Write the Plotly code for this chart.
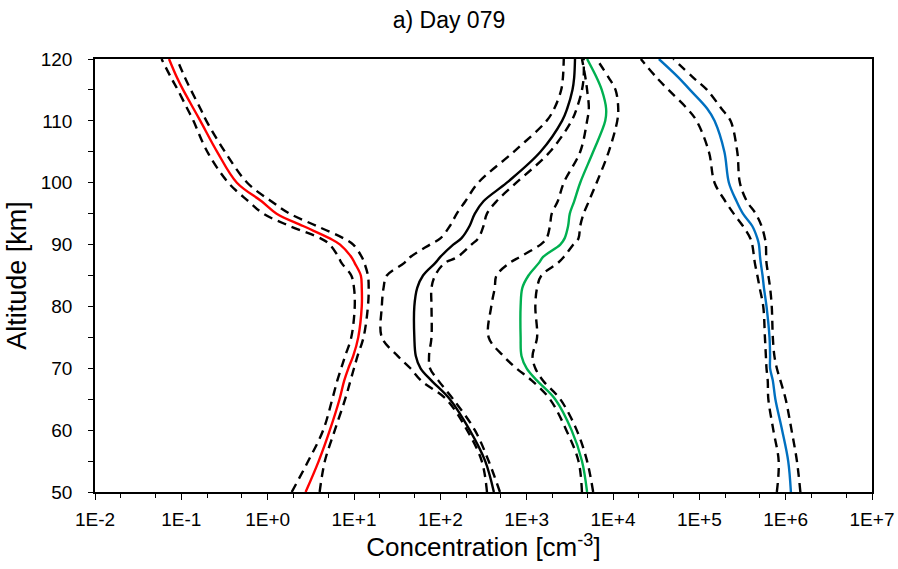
import plotly.graph_objects as go

# Altitude grid [km]
altitude = [50, 55, 60, 65, 68, 70, 72, 75, 80, 83, 85, 87, 88, 90, 91, 93, 95, 97, 100, 105, 110, 112, 115, 117, 120]

# Red species (center, lower, upper) [cm^-3]
red_mid = [2.75, 3.9, 5.25, 6.8, 7.7, 8.6, 9.8, 11.2, 12.3, 12.3, 12.0, 10.2, 9.3, 6.9, 5.25, 2.57, 1.27, 0.85, 0.44, 0.26, 0.166, 0.138, 0.105, 0.089, 0.072]
red_low = [1.9, 2.95, 4.4, 5.6, 6.4, 7.1, 7.9, 9.3, 10.2, 10.0, 9.3, 7.2, 6.6, 5.25, 4.1, 1.8, 0.89, 0.60, 0.35, 0.20, 0.138, 0.117, 0.091, 0.076, 0.059]
red_up = [4.0, 4.6, 6.0, 7.9, 9.1, 10.0, 11.0, 12.9, 14.5, 14.8, 14.5, 13.2, 12.3, 9.8, 7.6, 3.7, 1.8, 1.1, 0.58, 0.32, 0.195, 0.166, 0.129, 0.11, 0.089]

# Black species
black_mid = [417, 331, 219, 129, 79, 59, 52, 50, 50, 54, 63, 87, 100, 141, 175, 218, 251, 316, 589, 1445, 2570, 2950, 3390, 3550, 3630]
black_low = [347, 302, 204, 117, 60, 45, 32, 21, 21, 22, 24, 38, 45, 76, 100, 129, 155, 195, 275, 708, 1700, 2090, 2510, 2630, 2690]
black_up = [490, 363, 251, 141, 95, 76, 74, 79, 79, 79, 87, 112, 158, 229, 275, 316, 347, 447, 759, 1860, 3310, 3800, 4370, 4570, 4570]

# Green species
green_mid = [5010, 4370, 3310, 2140, 1320, 1000, 871, 851, 851, 891, 1050, 1380, 1550, 2450, 2750, 3020, 3160, 3550, 4170, 5890, 8130, 8320, 7410, 6460, 5010]
green_low = [4370, 3980, 2880, 1860, 1150, 759, 537, 363, 389, 427, 447, 631, 832, 1450, 1700, 1860, 1950, 2290, 2690, 4170, 5010, 5250, 5010, 4790, 4370]
green_up = [5890, 5010, 3800, 2450, 1550, 1260, 1170, 1320, 1260, 1320, 1480, 2290, 2690, 3470, 3980, 4170, 4570, 5250, 6460, 8910, 11200, 11500, 10700, 8910, 6460]

# Blue species
blue_mid = [1.15e6, 1.07e6, 9.1e5, 7.6e5, 7.1e5, 6.6e5, 6.6e5, 6.5e5, 6.0e5, 5.6e5, 5.4e5, 5.15e5, 5.05e5, 4.9e5, 4.7e5, 4.1e5, 3.2e5, 2.7e5, 2.2e5, 1.95e5, 1.5e5, 1.23e5, 7.8e4, 5.75e4, 3.4e4]
blue_low = [7.9e5, 8.3e5, 7.2e5, 6.3e5, 6.2e5, 6.0e5, 5.9e5, 5.75e5, 5.5e5, 5.0e5, 4.7e5, 4.4e5, 4.3e5, 4.1e5, 3.9e5, 3.2e5, 2.5e5, 2.0e5, 1.5e5, 1.29e5, 9.3e4, 7.2e4, 4.4e4, 3.2e4, 2.1e4]
blue_up = [1.48e6, 1.35e6, 1.17e6, 1.0e6, 8.7e5, 7.9e5, 7.4e5, 7.1e5, 6.9e5, 6.6e5, 6.3e5, 6.0e5, 5.95e5, 5.9e5, 5.75e5, 5.25e5, 4.5e5, 3.55e5, 2.95e5, 2.75e5, 2.3e5, 1.8e5, 1.23e5, 8.5e4, 5.0e4]

x_tick_vals = [1e-2, 1e-1, 1e0, 1e1, 1e2, 1e3, 1e4, 1e5, 1e6, 1e7]
x_tick_text = ["1E-2", "1E-1", "1E+0", "1E+1", "1E+2", "1E+3", "1E+4", "1E+5", "1E+6", "1E+7"]
y_tick_vals = [50, 60, 70, 80, 90, 100, 110, 120]

series = [
    (red_mid, red_low, red_up, "#FF0000"),
    (black_mid, black_low, black_up, "#000000"),
    (green_mid, green_low, green_up, "#00B050"),
    (blue_mid, blue_low, blue_up, "#0070C0"),
]

fig = go.Figure()
for mid, low, up, color in series:
    for bound in (low, up):
        fig.add_trace(go.Scatter(
            x=bound, y=altitude, mode="lines",
            line=dict(color="black", width=2.4, dash="9px,6px", shape="spline", smoothing=1.0),
            showlegend=False, hoverinfo="skip"))
    fig.add_trace(go.Scatter(
        x=mid, y=altitude, mode="lines",
        line=dict(color=color, width=2.4, shape="spline", smoothing=1.0),
        showlegend=False))

font_family = "Liberation Sans, Arial, sans-serif"

fig.update_layout(
    width=898, height=569,
    margin=dict(l=95, r=26, t=59, b=77),
    paper_bgcolor="white", plot_bgcolor="white",
    font=dict(family=font_family, color="#000000"),
    title=dict(text="a) Day 079", x=0.5, xref="container", y=1 - 20 / 569, yref="container",
               xanchor="center", yanchor="middle", font=dict(size=23, color="#000000")),
)

fig.update_xaxes(
    type="log", range=[-2, 7], automargin=False,
    tickvals=x_tick_vals, ticktext=x_tick_text,
    ticks="outside", ticklen=6, tickwidth=1, tickcolor="#000000",
    minor=dict(ticks="outside", ticklen=4, tickwidth=1, tickcolor="#000000", showgrid=False),
    showgrid=False, zeroline=False,
    showline=True, linecolor="#000000", linewidth=1.5, mirror=True,
    tickfont=dict(size=19), ticklabelstandoff=3,
    title=dict(text="Concentration [cm<sup>-3</sup>]", font=dict(size=26), standoff=8),
)
fig.update_yaxes(
    range=[50, 120], automargin=False, tickvals=y_tick_vals,
    ticks="outside", ticklen=5, tickwidth=1, tickcolor="#000000",
    minor=dict(dtick=5, ticks="outside", ticklen=5, tickwidth=1, tickcolor="#000000", showgrid=False),
    showgrid=False, zeroline=False,
    showline=True, linecolor="#000000", linewidth=1.5, mirror=True,
    tickfont=dict(size=19), ticklabelstandoff=12,
    title=dict(text="Altitude [km]", font=dict(size=27), standoff=6),
)

fig.write_html("out.html")
